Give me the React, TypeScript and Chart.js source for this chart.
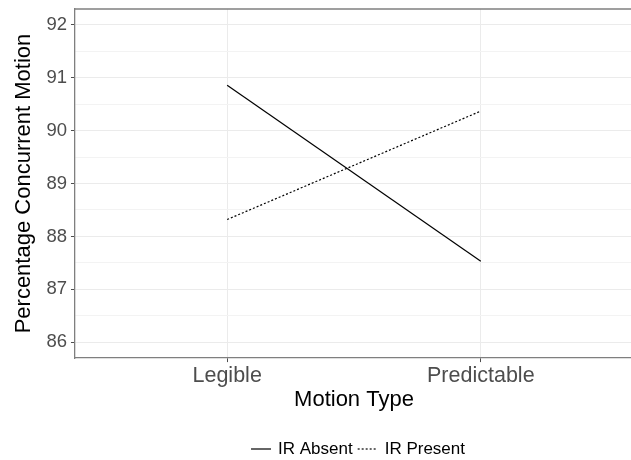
import React, { useEffect, useRef } from 'react';
import { Chart, registerables } from 'chart.js';

Chart.register(...registerables);

const categories = ['Legible', 'Predictable'];
const seriesNames = ['IR Absent', 'IR Present'];
const irAbsent = [90.86, 87.53];
const irPresent = [88.32, 90.37];
const yMin = 85.7;
const yMax = 92.3;
const yStep = 0.5;

const FONT = "'Liberation Sans', Arial, sans-serif";

const isMajor = (v: number) => Math.abs(v - Math.round(v)) < 1e-6;

const panelTopBorder = {
  id: 'panelTopBorder',
  afterDatasetsDraw(chart: any) {
    const { ctx, chartArea } = chart;
    ctx.save();
    ctx.strokeStyle = '#7F7F7F';
    ctx.lineWidth = 1.3;
    ctx.beginPath();
    ctx.moveTo(chartArea.left, chartArea.top);
    ctx.lineTo(chartArea.right, chartArea.top);
    ctx.stroke();
    ctx.restore();
  },
};

const bottomLegend = {
  id: 'bottomLegend',
  afterDraw(chart: any) {
    const { ctx } = chart;
    const items = chart.data.datasets.map((ds: any) => ({
      text: ds.label,
      color: ds.borderColor,
      dash: ds.borderDash || [],
      width: ds.borderWidth,
    }));
    ctx.save();
    ctx.font = `17px ${FONT}`;
    ctx.textBaseline = 'middle';
    const sample = 20;
    const gapText = 7;
    const gapItem = 5;
    const widths = items.map((it: any) => sample + gapText + ctx.measureText(it.text).width);
    const total = widths.reduce((a: number, b: number) => a + b, 0) + gapItem * (items.length - 1);
    let x = 358 - total / 2;
    const y = 449;
    items.forEach((it: any, i: number) => {
      ctx.strokeStyle = it.color;
      ctx.lineWidth = it.width;
      ctx.setLineDash(it.dash);
      ctx.beginPath();
      ctx.moveTo(x, y);
      ctx.lineTo(x + sample, y);
      ctx.stroke();
      ctx.setLineDash([]);
      ctx.fillStyle = '#000';
      ctx.textAlign = 'left';
      ctx.fillText(it.text, x + sample + gapText, y + 0.5);
      x += widths[i] + gapItem;
    });
    ctx.restore();
  },
};

const zeroPad = (axis: any) => {
  axis.paddingTop = 0;
  axis.paddingBottom = 0;
  axis.paddingLeft = 0;
  axis.paddingRight = 0;
};

export default function App() {
  const ref = useRef<HTMLCanvasElement | null>(null);

  useEffect(() => {
    if (!ref.current) return;
    const chart = new Chart(ref.current, {
      type: 'line',
      data: {
        datasets: [
          {
            label: seriesNames[0],
            data: categories.map((_, i) => ({ x: i + 1, y: irAbsent[i] })),
            borderColor: '#000000',
            borderWidth: 1.2,
            pointRadius: 0,
            fill: false,
          },
          {
            label: seriesNames[1],
            data: categories.map((_, i) => ({ x: i + 1, y: irPresent[i] })),
            borderColor: '#000000',
            borderWidth: 1.2,
            borderDash: [2, 2],
            pointRadius: 0,
            fill: false,
          },
        ],
      },
      options: {
        responsive: false,
        animation: false,
        devicePixelRatio: 1,
        layout: { padding: { left: 11, right: 7, top: 9, bottom: 43 } },
        plugins: {
          legend: { display: false },
          tooltip: { enabled: false },
        },
        scales: {
          x: {
            type: 'linear',
            min: 0.4,
            max: 2.6,
            afterBuildTicks: (axis: any) => {
              axis.ticks = categories.map((_, i) => ({ value: i + 1 }));
            },
            afterFit: zeroPad,
            ticks: {
              callback: (v: any) => categories[Number(v) - 1] ?? '',
              color: '#4D4D4D',
              font: { family: FONT, size: 21.5, lineHeight: 1 },
              padding: 3,
              maxRotation: 0,
              autoSkip: false,
            },
            grid: {
              color: '#EBEBEB',
              lineWidth: 1,
              tickColor: '#4D4D4D',
              tickLength: 4,
            },
            border: { display: true, color: '#7F7F7F', width: 1.3 },
            title: {
              display: true,
              text: 'Motion Type',
              color: '#000000',
              font: { family: FONT, size: 22 },
              padding: { top: -3, bottom: 4 },
            },
          },
          y: {
            type: 'linear',
            min: yMin,
            max: yMax,
            afterFit: zeroPad,
            ticks: {
              stepSize: yStep,
              includeBounds: false,
              autoSkip: false,
              callback: (v: any) => (isMajor(Number(v)) ? String(Math.round(Number(v))) : ''),
              color: '#4D4D4D',
              font: { family: FONT, size: 18.5 },
              padding: 4,
            },
            grid: {
              color: (c: any) => (c.tick && isMajor(c.tick.value) ? '#EBEBEB' : '#F3F3F3'),
              lineWidth: 1,
              tickColor: (c: any) => (c.tick && isMajor(c.tick.value) ? '#4D4D4D' : 'rgba(0,0,0,0)'),
              tickLength: 4,
            },
            border: { display: true, color: '#7F7F7F', width: 1.3 },
            title: {
              display: true,
              text: 'Percentage Concurrent Motion',
              color: '#000000',
              font: { family: FONT, size: 22 },
              padding: { top: 0, bottom: 5 },
            },
          },
        },
      },
      plugins: [panelTopBorder, bottomLegend],
    });
    return () => chart.destroy();
  }, []);

  return (
    <div style={{ position: 'fixed', left: 0, top: 0, width: 631, height: 460, overflow: 'hidden', background: '#fff' }}>
      <canvas ref={ref} width={640} height={460} style={{ display: 'block' }} />
    </div>
  );
}
